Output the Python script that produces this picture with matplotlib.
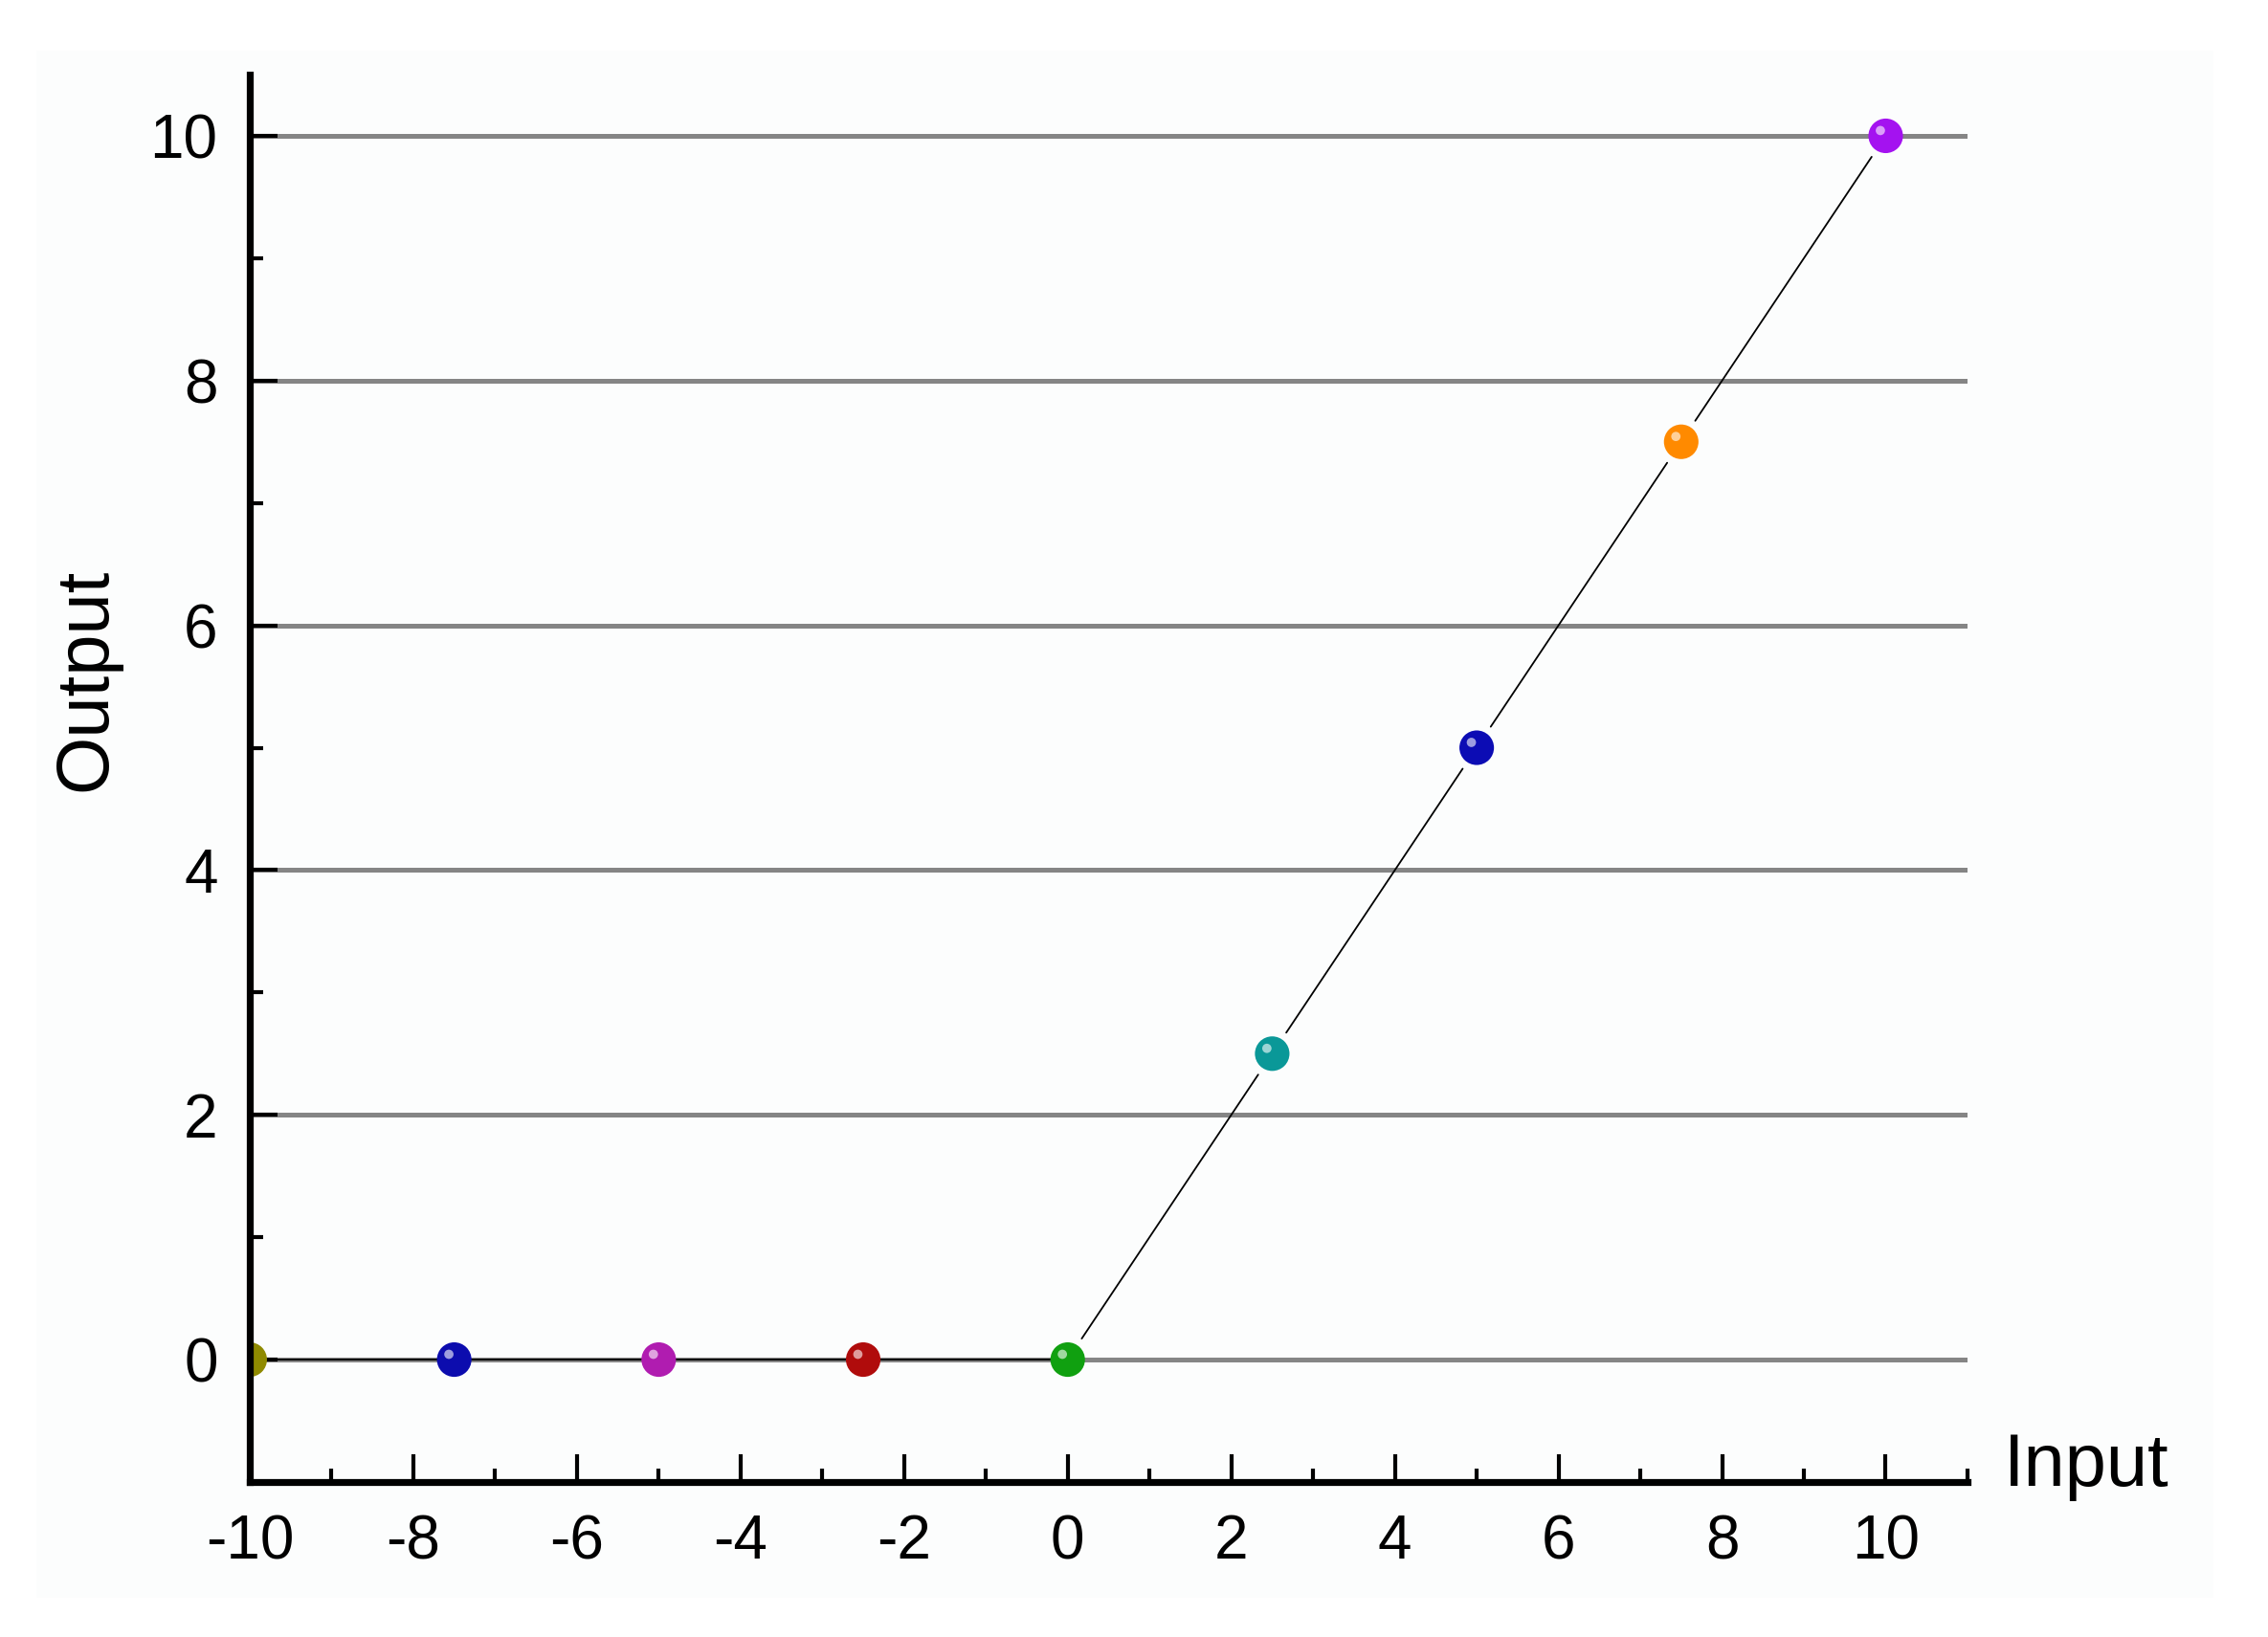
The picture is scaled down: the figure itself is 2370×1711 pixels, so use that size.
import matplotlib.pyplot as plt
from matplotlib.patches import Rectangle
from matplotlib.ticker import MultipleLocator
import matplotlib.transforms as mtransforms

# ReLU-style response, one coloured ball per sample
inputs = [-10, -7.5, -5, -2.5, 0, 2.5, 5, 7.5, 10]
outputs = [0, 0, 0, 0, 0, 2.5, 5, 7.5, 10]
ball_colors = ["#8f8a00", "#0c0cae", "#b01cb0", "#b00c0c", "#10a010",
               "#0a9898", "#0c0cb4", "#ff8a00", "#a412f0"]

grid_levels = [0, 2, 4, 6, 8, 10]

plt.rcParams['font.family'] = ['Liberation Sans', 'DejaVu Sans']
plt.rcParams['axes.unicode_minus'] = False

fig = plt.figure(figsize=(23.7, 17.11), dpi=100)
# faint off-white backdrop like the original picture
fig.patches.append(Rectangle((0.016, 0.024), 0.96, 0.945, transform=fig.transFigure,
                             facecolor="#fcfdfd", edgecolor="none", zorder=-10))
ax = fig.add_axes([0.1101, 0.0947, 0.7574, 0.8597])
ax.set_facecolor("none")

ax.set_xlim(-10, 11)
ax.set_ylim(-1, 10.5)

# horizontal reference lines
for lvl in grid_levels:
    ax.axhline(lvl, color="#858585", lw=3.6, zorder=1)

# connecting line, leaving a small gap next to the balls on the rising part
for i in range(len(inputs) - 1):
    gap = 19 if outputs[i] != outputs[i + 1] else 0
    ax.annotate("", xy=(inputs[i + 1], outputs[i + 1]), xytext=(inputs[i], outputs[i]),
                arrowprops=dict(arrowstyle="-", color="black", lw=1.3,
                                shrinkA=gap, shrinkB=gap), zorder=2)

ax.scatter(inputs, outputs, s=26 ** 2, c=ball_colors, edgecolors="none", zorder=3)
# glossy highlight
hl = mtransforms.offset_copy(ax.transData, fig=fig, x=-4, y=4, units="points")
ax.scatter(inputs, outputs, s=7 ** 2, c="white", alpha=0.6, edgecolors="none",
           transform=hl, zorder=4)

for side in ["top", "right"]:
    ax.spines[side].set_visible(False)
for side in ["left", "bottom"]:
    ax.spines[side].set_linewidth(5.2)
    ax.spines[side].set_zorder(5)

ax.xaxis.set_major_locator(MultipleLocator(2))
ax.xaxis.set_minor_locator(MultipleLocator(1))
ax.yaxis.set_major_locator(MultipleLocator(2))
ax.yaxis.set_minor_locator(MultipleLocator(1))
ax.set_yticks(grid_levels)

ax.tick_params(which="both", direction="in", width=3, labelsize=46, pad=24,
               top=False, right=False)
ax.tick_params(which="major", length=21)
ax.tick_params(which="minor", length=10)

ax.set_xlabel("Input", fontsize=56, ha="left", va="baseline")
ax.xaxis.set_label_coords(1.021, -0.003)
ax.set_ylabel("Output", fontsize=56)
ax.yaxis.set_label_coords(-0.0747, 0.570)

fig.savefig("out.png", dpi=100)
